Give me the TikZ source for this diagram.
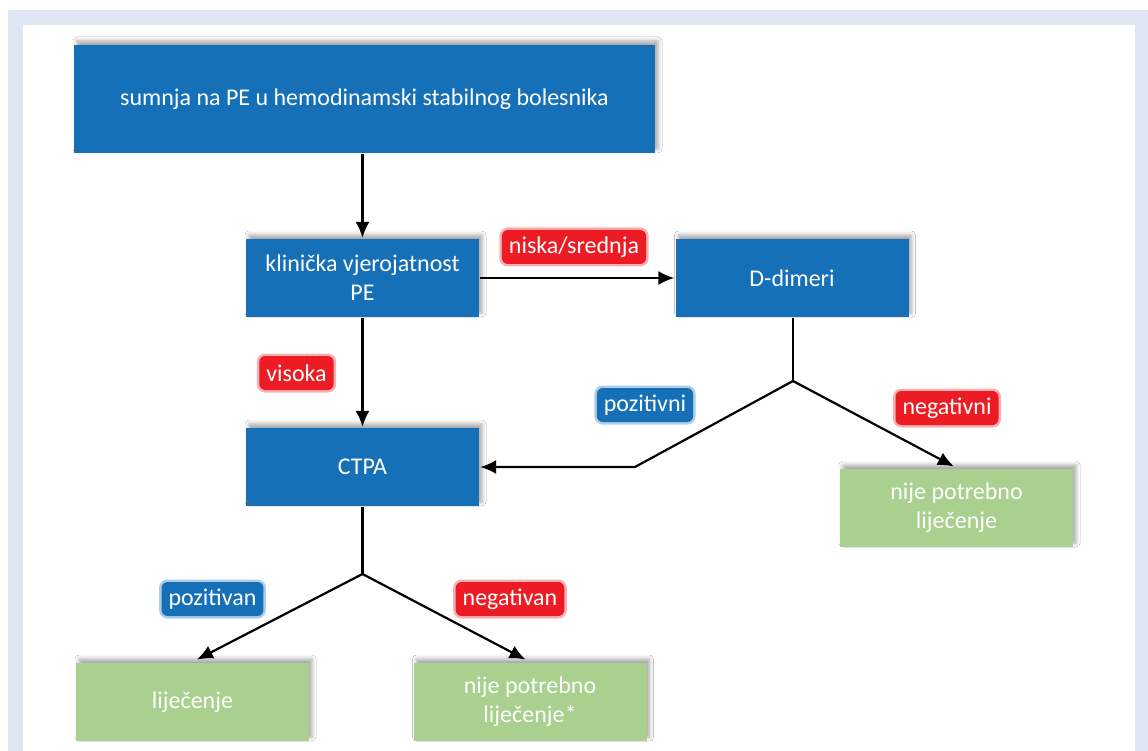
\documentclass[tikz,border=0pt]{standalone}
\usepackage{fontspec}
\setmainfont{Carlito}
\usetikzlibrary{arrows.meta,positioning,shadows.blur}
\definecolor{plava}{RGB}{21,112,184}
\definecolor{crvena}{RGB}{237,28,36}
\definecolor{zelena}{RGB}{169,208,142}
\definecolor{rub}{RGB}{223,231,243}

\begin{document}
\begin{tikzpicture}[x=1pt, y=-1pt, >={Latex[length=16pt,width=14pt]}, line width=2.2pt,
    font=\fontsize{24}{29}\selectfont,
    kutija/.style={rectangle, fill=plava, text=white, align=center, inner sep=0pt,
        minimum width=233pt, minimum height=78pt,
        blur shadow={shadow xshift=3pt, shadow yshift=4pt, shadow blur radius=4pt, shadow opacity=35}},
    zeleni/.style={kutija, fill=zelena},
    oznaka/.style={rectangle, rounded corners=6pt, text=white, inner xsep=7pt,
        minimum height=34pt, line width=5pt, draw opacity=0.35},
    crvozn/.style={oznaka, fill=crvena, draw=crvena},
    plaozn/.style={oznaka, fill=plava, draw=plava}]
    \useasboundingbox (0,0) rectangle (1148,751);
    % okvir
    \fill[white] (0,0) rectangle (1148,751);
    \fill[rub] (8,10) rectangle (1148,751);
    \fill[white] (23,25) rectangle (1135,751);

    % kutije
    \node[kutija, minimum width=581pt, minimum height=108pt] (sumnja) at (364.5,99) {sumnja na PE u hemodinamski stabilnog bolesnika};
    \node[kutija] (klin) at (362.5,278) {klinička vjerojatnost\\PE};
    \node[kutija] (ddim) at (792,278) {D-dimeri};
    \node[kutija] (ctpa) at (362.5,467) {CTPA};
    \node[zeleni] (nije1) at (956.5,508) {nije potrebno\\liječenje};
    \node[zeleni] (lijec) at (192.5,702) {liječenje};
    \node[zeleni] (nije2) at (530,702) {nije potrebno\\liječenje*};

    % strelice
    \draw[->] (klin.north |- sumnja.south) -- (klin.north);
    \draw[->] (klin) -- (ddim);
    \draw[->] (klin) -- (ctpa);
    \coordinate (jd) at (793,381);
    \coordinate (kd) at (635,467);
    \draw (ddim.south -| jd) -- (jd);
    \draw[->] (jd) -- (kd) -- (ctpa);
    \draw[->, shorten >=3pt] (jd) -- (nije1.north);
    \coordinate (jc) at (362.5,574);
    \draw (ctpa) -- (jc);
    \draw[->, shorten >=5pt] (jc) -- (lijec.north);
    \draw[->, shorten >=5pt] (jc) -- (nije2.north);

    % oznake
    \node[crvozn] (niska) at (574,247) {niska/srednja};
    \node[crvozn] (visoka) at (296.5,373) {visoka};
    \node[plaozn] (pozi) at (645,405) {pozitivni};
    \node[crvozn] (nega) at (947,408) {negativni};
    \node[plaozn] (poza) at (212.5,599) {pozitivan};
    \node[crvozn] (negan) at (510,599) {negativan};
\end{tikzpicture}
\end{document}
